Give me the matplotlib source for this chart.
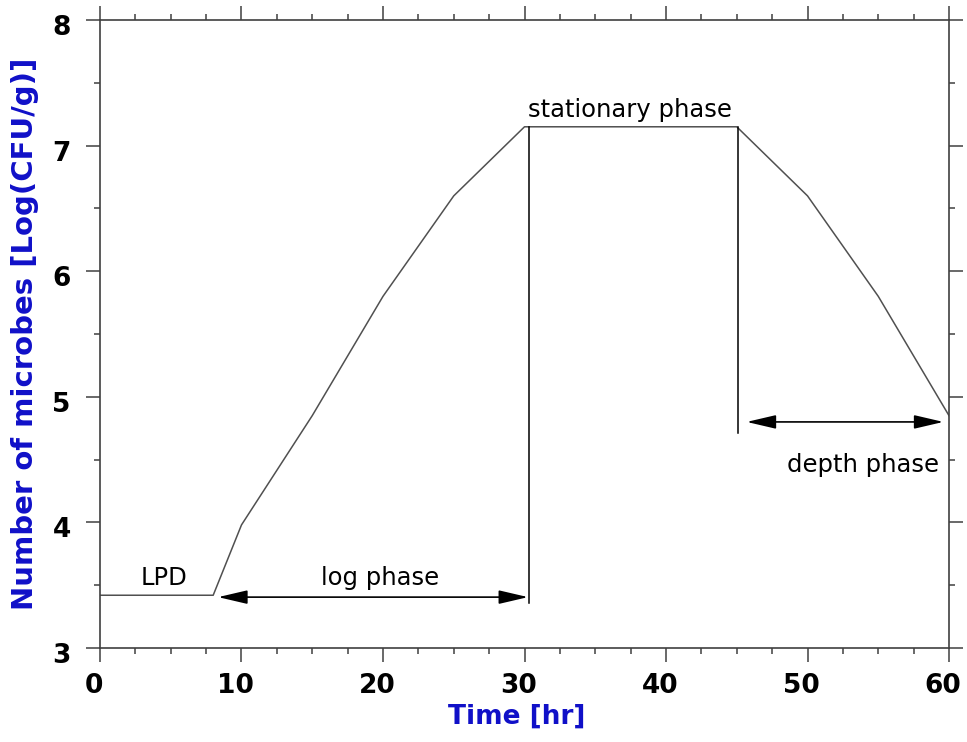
import matplotlib
matplotlib.use("Agg")
import matplotlib.pyplot as plt
from matplotlib.ticker import MultipleLocator
from matplotlib.transforms import ScaledTranslation

plt.rcParams['font.family'] = ['DejaVu Sans']

# Data
time_hr = [0, 8, 10, 15, 20, 25, 30, 45, 50, 55, 60]
log_cfu = [3.42, 3.42, 3.98, 4.85, 5.8, 6.6, 7.15, 7.15, 6.6, 5.8, 4.85]

# Phase boundary lines (x, y_bottom, y_top)
vline_x = [30.3, 45.1]
vline_ybot = [3.36, 4.71]
vline_ytop = [7.15, 7.15]

# Phase arrows (x_start, x_end, y)
arrow_x0 = [8.35, 45.7]
arrow_x1 = [30.25, 59.6]
arrow_y = [3.405, 4.8]

# Labels
label_text = ["LPD", "log phase", "stationary phase", "depth phase"]
label_x = [4.5, 19.8, 37.45, 53.9]
label_y = [3.50, 3.50, 7.23, 4.40]

fig = plt.figure(figsize=(9.67, 7.42), dpi=100)
ax = fig.add_axes([0.1034, 0.1267, 0.878, 0.8463])

ax.plot(time_hr, log_cfu, color='#505050', lw=1.1)
for x, yb, yt in zip(vline_x, vline_ybot, vline_ytop):
    ax.plot([x, x], [yb, yt], color='black', lw=1.1)

for x0, x1, y in zip(arrow_x0, arrow_x1, arrow_y):
    ax.annotate('', xy=(x1, y), xytext=(x0, y),
                arrowprops=dict(arrowstyle='<|-|>,head_length=1.8,head_width=0.42',
                                mutation_scale=10, color='black', lw=1.2,
                                shrinkA=0, shrinkB=0))

for t, x, y in zip(label_text, label_x, label_y):
    ax.text(x, y, t, ha='center', va='baseline', fontsize=17.5, color='black')

ax.set_xlim(0, 60)
ax.set_ylim(3, 8)
ax.xaxis.set_major_locator(MultipleLocator(10))
ax.xaxis.set_minor_locator(MultipleLocator(2.5))
ax.yaxis.set_major_locator(MultipleLocator(1))
ax.yaxis.set_minor_locator(MultipleLocator(0.5))

ax.tick_params(axis='both', which='both', direction='out', top=True, right=True,
               colors='#404040', labelcolor='black', width=1.1)
ax.tick_params(axis='both', which='major', length=10, labelsize=19)
ax.tick_params(axis='x', which='major', pad=8)
ax.tick_params(axis='y', which='major', pad=11)
ax.tick_params(axis='both', which='minor', length=4.5)

xoff = ScaledTranslation(-0.06, 0, fig.dpi_scale_trans)
yoff = ScaledTranslation(0, -0.05, fig.dpi_scale_trans)
for lab in ax.get_xticklabels():
    lab.set_fontweight('bold')
    lab.set_transform(lab.get_transform() + xoff)
for lab in ax.get_yticklabels():
    lab.set_fontweight('bold')
    lab.set_transform(lab.get_transform() + yoff)
for s in ax.spines.values():
    s.set_color('#404040')
    s.set_linewidth(1.2)

ax.set_xlabel('Time [hr]', fontsize=19, fontweight='bold', color='#1010c8')
ax.set_ylabel('Number of microbes [Log(CFU/g)]', fontsize=21, fontweight='bold',
              color='#1010c8')
ax.xaxis.set_label_coords(0.491, -0.088)
ax.yaxis.set_label_coords(-0.072, 0.5)

fig.savefig('out.png', dpi=100)
